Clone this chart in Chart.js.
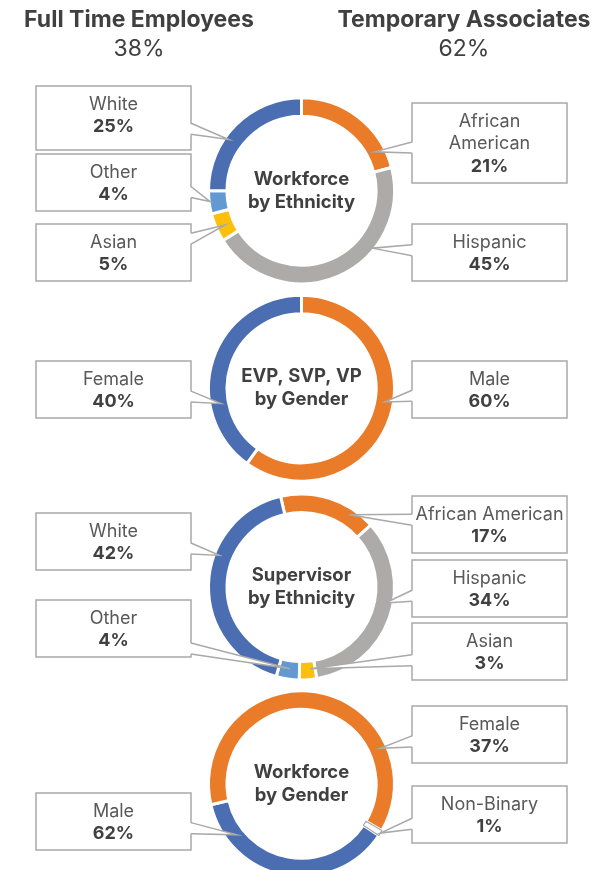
<!DOCTYPE html>
<html>
<head>
<meta charset="utf-8">
<script src="https://cdn.jsdelivr.net/npm/chart.js@4.4.1/dist/chart.umd.min.js"></script>
<style>
  html, body { margin: 0; padding: 0; background: #fff; }
  #wrap { position: relative; width: 595px; height: 870px; overflow: hidden; }
  #wrap canvas { position: absolute; left: 0; top: 0; }
</style>
</head>
<body>
<div id="wrap"></div>
<script>
// headline split
const groupNames = ["Full Time Employees", "Temporary Associates"];
const groupShares = [38, 62];

// ethnicity rings
const ethnicityLabels = ["African American", "Hispanic", "Asian", "Other", "White"];
const workforceEthnicity = [21, 45, 5, 4, 25];
const supervisorEthnicity = [17, 34, 3, 4, 42];

// gender rings
const execGenderLabels = ["Male", "Female"];
const execGender = [60, 40];
const workforceGenderLabels = ["Female", "Male", "Non-Binary"];
const workforceGender = [37, 62, 1];

const W = 595, H = 900, CX = 301.5, R = 93, INNER = 74.5;
const FONT = "Inter, 'Noto Sans', sans-serif";
const BOX_LINE = "#a9a9a9";

const c = {
  blue: "#4a6eb1",
  orange: "#ea7b28",
  gray: "#adaaaa",
  yellow: "#fcbf0a",
  sky: "#6399d3",
  white: "#ffffff"
};

const rings = [
  {
    cy: 190.7, rotation: 0,
    title: ["Workforce", "by Ethnicity"],
    labels: ethnicityLabels, values: workforceEthnicity,
    colors: [c.orange, c.gray, c.yellow, c.sky, c.blue],
    callouts: [
      { i: 4, t: .39, rf: .78, box: [36, 86, 155, 64] },
      { i: 3, t: .53, rf: .95, box: [36, 154, 155, 57] },
      { i: 2, t: .46, rf: .5, box: [36, 224, 155, 57] },
      { i: 0, t: .82, rf: .45, box: [412, 103, 155, 80] },
      { i: 1, t: .33, rf: .9, box: [412, 224, 155, 57] }
    ]
  },
  {
    cy: 388.3, rotation: 0,
    title: ["EVP, SVP, VP", "by Gender"],
    labels: execGenderLabels, values: execGender,
    colors: [c.orange, c.blue],
    callouts: [
      { i: 1, t: .30, rf: .4, box: [36, 361, 155, 57] },
      { i: 0, t: .46, rf: .53, box: [412, 361, 155, 57] }
    ]
  },
  {
    cy: 587, rotation: -13,
    title: ["Supervisor", "by Ethnicity"],
    labels: ethnicityLabels, values: supervisorEthnicity,
    colors: [c.orange, c.gray, c.yellow, c.sky, c.blue],
    callouts: [
      { i: 4, t: .63, rf: .73, box: [36, 513, 155, 57] },
      { i: 3, t: .45, rf: .43, box: [36, 600, 155, 57] },
      { i: 0, t: .76, rf: .65, box: [412, 496, 155, 57] },
      { i: 1, t: .43, rf: .58, box: [412, 560, 155, 57] },
      { i: 2, t: .31, rf: .42, box: [412, 623, 155, 57] }
    ]
  },
  {
    cy: 783.8, rotation: 123.8,
    title: ["Workforce", "by Gender"],
    labels: workforceGenderLabels, values: workforceGender,
    colors: [c.blue, c.orange, c.white],
    borderColor: ["#fff", "#fff", BOX_LINE],
    borderWidth: [3, 3, 1.2],
    callouts: [
      { i: 0, arc: 1, t: .756, rf: .64, box: [412, 706, 155, 57] },
      { i: 2, t: .5, rf: 1, box: [412, 786, 155, 57] },
      { i: 1, arc: 0, t: .81, rf: .42, box: [36, 793, 155, 57] }
    ]
  }
];

const headerX = [139, 464];

const headerPlugin = {
  id: "header",
  afterDraw(chart) {
    const ctx = chart.ctx;
    ctx.save();
    ctx.textAlign = "center";
    ctx.textBaseline = "middle";
    ctx.fillStyle = "#404040";
    groupNames.forEach((name, k) => {
      ctx.font = `bold 23px ${FONT}`;
      ctx.fillText(name, headerX[k], 20);
      ctx.font = `23px ${FONT}`;
      ctx.fillText(groupShares[k] + "%", headerX[k], 49);
    });
    ctx.restore();
  }
};

function anchorPoint(arc, t, rf) {
  const a = arc.startAngle + (arc.endAngle - arc.startAngle) * t;
  const r = arc.innerRadius + (arc.outerRadius - arc.innerRadius) * rf;
  return { x: arc.x + Math.cos(a) * r, y: arc.y + Math.sin(a) * r };
}

function drawCallout(ctx, box, p, lines, value) {
  const [x, y, w, h] = box;
  const onLeft = x + w / 2 < CX;
  const ex = onLeft ? x + w : x;
  const inset = onLeft ? -1.5 : 1.5;
  const mid = Math.min(Math.max((y + h / 2 + p.y) / 2, y + 8), y + h - 8);
  const hw = 5.5;

  ctx.save();
  ctx.lineWidth = 1.5;
  ctx.strokeStyle = BOX_LINE;
  ctx.fillStyle = "#fff";
  ctx.fillRect(x, y, w, h);
  ctx.strokeRect(x, y, w, h);

  // pointer tail, white inside so it opens the box edge
  ctx.beginPath();
  ctx.moveTo(ex + inset, mid - hw);
  ctx.lineTo(p.x, p.y);
  ctx.lineTo(ex + inset, mid + hw);
  ctx.closePath();
  ctx.fill();
  ctx.beginPath();
  ctx.moveTo(ex, mid - hw);
  ctx.lineTo(p.x, p.y);
  ctx.lineTo(ex, mid + hw);
  ctx.stroke();

  ctx.textAlign = "center";
  ctx.textBaseline = "middle";
  const tx = x + w / 2;
  let ty = y + 18.5;
  ctx.font = `18px ${FONT}`;
  ctx.fillStyle = "#595959";
  lines.forEach(line => { ctx.fillText(line, tx, ty); ty += 22.5; });
  ctx.font = `bold 18px ${FONT}`;
  ctx.fillStyle = "#404040";
  ctx.fillText(value + "%", tx, ty);
  ctx.restore();
}

function makeCallouts(ring) {
  return {
    id: "callouts",
    afterDraw(chart) {
      const ctx = chart.ctx;
      const arcs = chart.getDatasetMeta(0).data;
      const centre = arcs[0];

      ctx.save();
      ctx.textAlign = "center";
      ctx.textBaseline = "middle";
      ctx.font = `bold 18.5px ${FONT}`;
      ctx.fillStyle = "#404040";
      ctx.fillText(ring.title[0], centre.x, centre.y - 11.5);
      ctx.fillText(ring.title[1], centre.x, centre.y + 11.5);
      ctx.restore();

      ring.callouts.forEach(co => {
        const arc = arcs[co.arc !== undefined ? co.arc : co.i];
        const p = anchorPoint(arc, co.t, co.rf);
        const label = ring.labels[co.i];
        const lines = co.box[3] > 70 ? label.split(" ") : [label];
        drawCallout(ctx, co.box, p, lines, ring.values[co.i]);
      });
    }
  };
}

const wrap = document.getElementById("wrap");

rings.forEach((ring, k) => {
  const canvas = document.createElement("canvas");
  canvas.width = W;
  canvas.height = H;
  wrap.appendChild(canvas);

  new Chart(canvas, {
    type: "doughnut",
    data: {
      labels: ring.labels,
      datasets: [{
        data: ring.values,
        backgroundColor: ring.colors,
        borderColor: ring.borderColor || "#fff",
        borderWidth: ring.borderWidth || 3
      }]
    },
    options: {
      responsive: false,
      animation: false,
      events: [],
      rotation: ring.rotation,
      radius: R,
      cutout: (INNER / R * 100) + "%",
      layout: {
        padding: { left: CX - R, right: W - CX - R, top: ring.cy - R, bottom: H - ring.cy - R }
      },
      plugins: { legend: { display: false }, tooltip: { enabled: false } }
    },
    plugins: k === 0 ? [headerPlugin, makeCallouts(ring)] : [makeCallouts(ring)]
  });
});
</script>
</body>
</html>
